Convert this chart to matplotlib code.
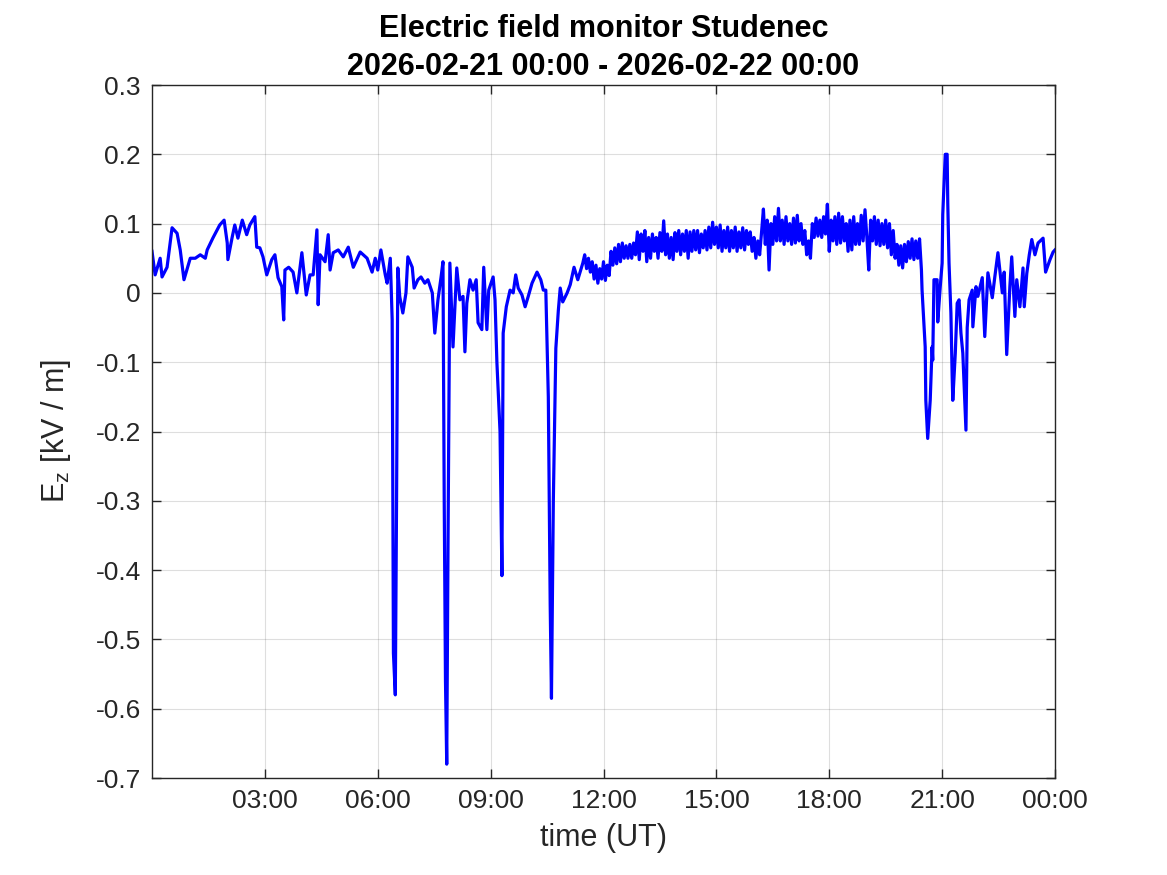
import matplotlib
matplotlib.use("Agg")
import matplotlib.pyplot as plt
import numpy as np

plt.rcParams['font.family'] = ['Liberation Sans', 'DejaVu Sans']
plt.rcParams['mathtext.fontset'] = 'custom'
plt.rcParams['mathtext.rm'] = 'Liberation Sans'
plt.rcParams['mathtext.it'] = 'Liberation Sans:italic'

# minutes since 2026-02-21 00:00 UT
# 00:00 - 11:27, irregular samples
t_min_a = [0, 5, 13, 16, 24, 32, 40, 45, 51, 61, 69, 77, 85, 88, 97, 108, 115, 120, 121, 128,
           132, 137, 144, 151, 156, 164, 167, 172, 177, 183, 191, 196, 201, 207, 210, 212, 218, 225, 231, 239,
           246, 252, 257, 263, 265, 268, 276, 281, 284, 289, 297, 305, 313, 321, 332, 343, 351, 356, 360, 365,
           372, 375, 380, 383, 385, 388, 390, 392, 395, 400, 405, 408, 415, 418, 424, 429, 435, 440, 447, 451,
           456, 461, 464, 466, 468, 470, 472, 475, 480, 486, 491, 496, 499, 502, 507, 512, 517, 520, 526, 529,
           534, 537, 544, 547, 550, 555, 558, 560, 565, 571, 576, 580, 584, 590, 595, 600, 606, 614, 620, 624,
           628, 632, 635, 637, 640, 644, 648, 651, 655, 662, 667, 673, 679, 687]
ez_a = [0.06, 0.026, 0.05, 0.023, 0.037, 0.094, 0.086, 0.062, 0.019, 0.05, 0.05, 0.055, 0.05, 0.062, 0.079, 0.098, 0.105, 0.072, 0.048, 0.081,
        0.098, 0.079, 0.105, 0.084, 0.098, 0.11, 0.066, 0.065, 0.052, 0.026, 0.048, 0.055, 0.022, 0.009, -0.039, 0.033, 0.037, 0.03, 0.0, 0.058,
        -0.003, 0.026, 0.026, 0.091, -0.017, 0.055, 0.045, 0.084, 0.033, 0.058, 0.062, 0.052, 0.066, 0.037, 0.059, 0.05, 0.03, 0.05, 0.033, 0.062,
        0.026, 0.014, 0.05, -0.039, -0.52, -0.58, -0.3, 0.036, -0.005, -0.029, 0.0, 0.052, 0.037, 0.007, 0.019, 0.023, 0.014, 0.019, 0.0, -0.058,
        -0.01, 0.023, 0.045, -0.3, -0.56, -0.68, -0.37, 0.043, -0.078, 0.036, -0.01, -0.005, -0.085, -0.015, 0.019, 0.004, 0.019, -0.043, -0.053, 0.037,
        -0.053, 0.004, 0.023, -0.01, -0.1, -0.2, -0.408, -0.058, -0.02, 0.004, 0.0, 0.026, 0.007, -0.003, -0.02, -0.005, 0.014, 0.03, 0.019, 0.004,
        0.004, -0.15, -0.45, -0.585, -0.3, -0.08, -0.025, 0.007, -0.013, 0.0, 0.012, 0.037, 0.019, 0.043]

# 11:30 - 20:27, every 3 minutes (noisy fair-weather band)
dense_start, dense_step = 690, 3
ez_dense = [0.055, 0.035, 0.05, 0.03, 0.045, 0.02, 0.04, 0.014, 0.035, 0.02,
            0.045, 0.018, 0.04, 0.025, 0.06, 0.04, 0.065, 0.042, 0.07, 0.045,
            0.072, 0.05, 0.068, 0.05, 0.07, 0.05, 0.072, 0.055, 0.088, 0.048,
            0.085, 0.06, 0.09, 0.045, 0.08, 0.05, 0.085, 0.06, 0.08, 0.05,
            0.087, 0.06, 0.104, 0.055, 0.085, 0.05, 0.08, 0.048, 0.087, 0.06,
            0.09, 0.055, 0.085, 0.06, 0.09, 0.05, 0.088, 0.06, 0.09, 0.062,
            0.09, 0.058, 0.085, 0.065, 0.09, 0.062, 0.095, 0.065, 0.102, 0.07,
            0.095, 0.065, 0.098, 0.06, 0.09, 0.065, 0.095, 0.06, 0.09, 0.065,
            0.095, 0.06, 0.088, 0.065, 0.094, 0.062, 0.09, 0.07, 0.088, 0.06,
            0.08, 0.05, 0.075, 0.055, 0.087, 0.121, 0.07, 0.105, 0.033, 0.1,
            0.07, 0.11, 0.075, 0.122, 0.075, 0.105, 0.07, 0.11, 0.075, 0.1,
            0.07, 0.108, 0.072, 0.112, 0.075, 0.1, 0.07, 0.09, 0.055, 0.075,
            0.05, 0.1, 0.08, 0.108, 0.082, 0.105, 0.08, 0.11, 0.085, 0.128,
            0.06, 0.105, 0.075, 0.11, 0.07, 0.115, 0.072, 0.11, 0.075, 0.1,
            0.06, 0.105, 0.062, 0.11, 0.07, 0.1, 0.07, 0.112, 0.075, 0.12,
            0.08, 0.033, 0.105, 0.075, 0.11, 0.07, 0.105, 0.068, 0.1, 0.07,
            0.105, 0.065, 0.1, 0.055, 0.09, 0.05, 0.07, 0.04, 0.068, 0.036,
            0.07, 0.045, 0.074, 0.05, 0.078, 0.048, 0.075, 0.05, 0.078, 0.033]

# 20:28 - 24:00, irregular samples
t_min_b = [1228, 1230, 1233, 1234, 1237, 1241, 1244, 1245, 1247, 1252, 1253, 1257, 1260, 1261, 1265, 1268, 1269, 1271, 1274, 1276,
           1277, 1281, 1284, 1287, 1290, 1293, 1298, 1300, 1303, 1308, 1309, 1314, 1317, 1324, 1328, 1333, 1340, 1344, 1349, 1356,
           1359, 1363, 1368, 1371, 1376, 1379, 1384, 1389, 1391, 1395, 1399, 1403, 1408, 1413, 1421, 1425, 1432, 1437, 1440]
ez_b = [0.004, -0.029, -0.078, -0.155, -0.21, -0.155, -0.078, -0.097, 0.019, 0.019, -0.042, 0.009, 0.043, 0.113, 0.2, 0.2, 0.13, 0.043, -0.029, -0.12,
        -0.155, -0.087, -0.015, -0.01, -0.058, -0.087, -0.198, -0.05, -0.01, 0.004, -0.049, 0.009, -0.005, 0.022, -0.063, 0.029, -0.007, 0.023, 0.058, 0.0,
        0.03, -0.089, 0.009, 0.052, -0.034, 0.019, -0.02, 0.036, -0.02, 0.028, 0.055, 0.077, 0.055, 0.072, 0.079, 0.03, 0.048, 0.059, 0.062]

tick_hours = [3, 6, 9, 12, 15, 18, 21, 24]
tick_labels = ['03:00', '06:00', '09:00', '12:00', '15:00', '18:00', '21:00', '00:00']
y_ticks = [-0.7, -0.6, -0.5, -0.4, -0.3, -0.2, -0.1, 0, 0.1, 0.2, 0.3]
y_labels = ['-0.7', '-0.6', '-0.5', '-0.4', '-0.3', '-0.2', '-0.1', '0', '0.1', '0.2', '0.3']

dark = '#262626'
t_dense = dense_start + dense_step * np.arange(len(ez_dense))
t_all = np.concatenate([t_min_a, t_dense, t_min_b])
ez_all = np.concatenate([ez_a, ez_dense, ez_b])
hours = t_all / 60.0

fig = plt.figure(figsize=(11.67, 8.75), dpi=100)
ax = fig.add_axes([152 / 1167, 97 / 875, 903 / 1167, 693 / 875])

ax.plot(hours, ez_all, color='#0000ff', lw=2.3)

ax.set_xlim(0, 24)
ax.set_ylim(-0.7, 0.3)
ax.set_xticks(tick_hours)
ax.set_xticklabels(tick_labels)
ax.set_yticks(y_ticks)
ax.set_yticklabels(y_labels)
ax.tick_params(direction='in', length=6.5, width=1, colors=dark, labelsize=19,
               top=True, right=True, pad=8)
ax.grid(True, color='#262626', alpha=0.15, lw=0.8)
for s in ax.spines.values():
    s.set_color(dark)
    s.set_linewidth(1)

ax.set_xlabel('time (UT)', fontsize=22, color=dark, labelpad=7)
ax.set_ylabel(r'E$_\mathrm{z}$ [kV / m]', fontsize=22, color=dark, labelpad=16)
ax.set_title('Electric field monitor Studenec\n2026-02-21 00:00 - 2026-02-22 00:00',
             fontsize=22, fontweight='bold', color='black', pad=7, linespacing=1.38)

fig.savefig('out.png', dpi=100)
